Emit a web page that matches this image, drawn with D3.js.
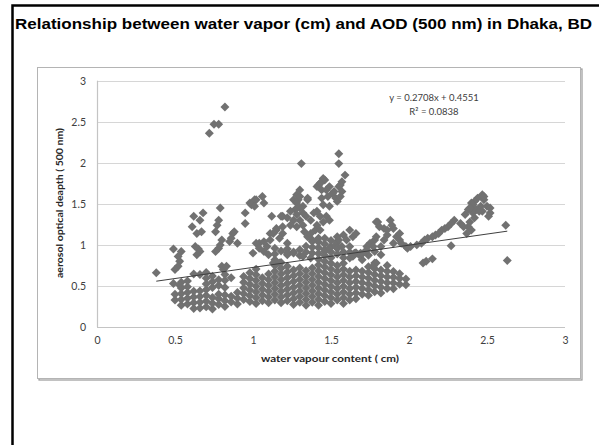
<!DOCTYPE html>
<html>
<head>
<meta charset="utf-8">
<script src="https://cdn.jsdelivr.net/npm/d3@7"></script>
<style>
  html, body { margin: 0; padding: 0; background: #fff; }
  svg { display: block; }
</style>
</head>
<body>
<svg id="chart" width="599" height="445"></svg>
<script>
// Daily water vapour (cm) vs. AOD at 500 nm, Dhaka.

const titleText = "Relationship between water vapor (cm) and AOD (500 nm) in Dhaka, BD";
const xTitle = "water vapour content ( cm)";
const yTitle = "aerosol optical deapth ( 500 nm)";
const xTicks = [0, 0.5, 1, 1.5, 2, 2.5, 3];
const yTicks = [0, 0.5, 1, 1.5, 2, 2.5, 3];
const slope = 0.2708;
const intercept = 0.4551;
const rSquared = "0.0838";

// Dense low-AOD band: water vapour value with the AOD values observed at it.
const denseBand = [
  [0.50, [0.33, 0.40]],
  [0.54, [0.265, 0.335, 0.405, 0.475, 0.545]],
  [0.58, [0.28, 0.35, 0.42, 0.49, 0.56]],
  [0.62, [0.225, 0.295, 0.365, 0.435, 0.645]],
  [0.66, [0.23, 0.30, 0.37, 0.44, 0.64]],
  [0.70, [0.245, 0.315, 0.385, 0.455, 0.525, 0.595, 0.665]],
  [0.74, [0.22, 0.29, 0.36, 0.48, 0.55, 0.62]],
  [0.78, [0.275, 0.345, 0.40, 0.505, 0.575]],
  [0.82, [0.25, 0.32, 0.39, 0.48, 0.57, 0.64]],
  [0.86, [0.305, 0.375, 0.60]],
  [0.90, [0.28, 0.35, 0.42]],
  [0.94, [0.335, 0.405, 0.475, 0.545, 0.615]],
  [0.98, [0.31, 0.38, 0.45, 0.52, 0.59, 0.66]],
  [1.02, [0.285, 0.355, 0.425, 0.495, 0.565, 0.635, 0.705]],
  [1.06, [0.32, 0.39, 0.46, 0.53, 0.60]],
  [1.10, [0.295, 0.365, 0.435, 0.505, 0.575, 0.645, 0.88]],
  [1.14, [0.33, 0.40, 0.47, 0.54, 0.61, 0.68, 0.75, 0.82, 0.89, 0.96]],
  [1.18, [0.295, 0.365, 0.435, 0.505, 0.575, 0.645, 0.715, 0.785, 0.925]],
  [1.22, [0.32, 0.39, 0.46, 0.53, 0.60, 0.67, 0.74, 0.88, 0.95, 1.02]],
  [1.26, [0.275, 0.345, 0.415, 0.485, 0.555, 0.625, 0.695, 0.915]],
  [1.30, [0.30, 0.37, 0.44, 0.51, 0.58, 0.65, 0.72, 0.87, 0.94]],
  [1.34, [0.265, 0.335, 0.405, 0.475, 0.545, 0.615, 0.685, 0.915, 0.985]],
  [1.38, [0.30, 0.37, 0.44, 0.51, 0.58, 0.65, 0.72, 0.90, 0.97, 1.04]],
  [1.42, [0.265, 0.335, 0.405, 0.475, 0.545, 0.615, 0.685, 0.755, 0.825, 0.895, 0.965, 1.035]],
  [1.46, [0.31, 0.38, 0.45, 0.52, 0.59, 0.66, 0.73, 0.80, 0.87, 0.94, 1.01, 1.08]],
  [1.50, [0.285, 0.355, 0.425, 0.495, 0.565, 0.635, 0.705, 0.775, 0.845, 0.915, 0.985, 1.055]],
  [1.54, [0.33, 0.40, 0.47, 0.54, 0.61, 0.68, 0.75, 0.89, 0.96, 1.03, 1.10]],
  [1.58, [0.285, 0.355, 0.425, 0.495, 0.565, 0.635, 0.705, 0.775, 0.845, 0.915]],
  [1.62, [0.33, 0.40, 0.47, 0.54, 0.61, 0.68, 0.84, 0.91, 0.98]],
  [1.66, [0.345, 0.415, 0.485, 0.555, 0.625, 0.695, 0.905]],
  [1.70, [0.40, 0.47, 0.54, 0.61, 0.68, 0.82, 0.89]],
  [1.74, [0.385, 0.455, 0.525, 0.595, 0.665, 0.735, 0.875]],
  [1.78, [0.43, 0.50, 0.57, 0.64, 0.71, 0.78, 0.92]],
  [1.82, [0.415, 0.485, 0.555, 0.625, 0.695, 0.88]],
  [1.86, [0.47, 0.54, 0.61, 0.68, 0.75]],
  [1.90, [0.465, 0.535, 0.605, 0.675]],
  [1.94, [0.52, 0.59, 0.65]],
  [1.98, [0.515, 0.585]]
];

// Scattered days at low water vapour (0.4 - 1.2 cm).
const lowVapourDays = [
  [0.38, 0.66], [0.49, 0.95], [0.54, 0.92], [0.52, 0.86], [0.53, 0.80], [0.52, 0.74],
  [0.50, 0.70], [0.49, 0.53], [0.53, 0.51], [0.62, 1.35], [0.68, 1.39], [0.66, 1.30],
  [0.61, 1.22], [0.67, 1.16], [0.64, 1.14], [0.79, 1.45], [0.78, 1.30], [0.77, 1.24],
  [0.76, 1.16], [0.65, 0.95], [0.64, 0.88], [0.66, 0.92], [0.63, 0.98], [0.78, 0.96],
  [0.76, 0.92], [0.79, 1.00], [0.80, 1.06], [0.85, 1.04], [0.87, 1.14], [0.86, 1.08],
  [0.90, 1.02], [0.88, 1.16], [0.80, 0.74], [0.81, 0.70], [0.83, 0.74], [0.95, 1.39],
  [0.98, 1.51], [1.01, 1.55], [0.95, 1.26], [1.00, 0.90], [0.99, 1.49], [1.04, 1.02],
  [1.07, 0.92], [1.09, 0.98], [1.11, 1.14], [1.15, 1.20], [1.19, 1.14], [1.13, 0.78],
  [1.17, 0.78], [1.22, 0.90], [1.26, 0.90], [1.32, 0.86], [1.37, 0.84], [1.06, 1.59],
  [1.02, 1.55], [1.01, 1.47], [1.07, 1.51], [1.12, 1.35], [1.19, 1.35], [1.19, 1.22],
  [1.15, 1.18], [1.13, 1.14], [1.17, 1.08], [1.11, 1.06], [1.07, 1.04], [1.02, 1.02],
  [1.04, 0.96]
];

// High-AOD plume around 1.2 - 1.7 cm.
const plumeDays = [
  [1.55, 2.11], [1.55, 1.99], [1.31, 1.99], [1.59, 1.85], [1.57, 1.77], [1.56, 1.73],
  [1.44, 1.77], [1.46, 1.79], [1.42, 1.73], [1.44, 1.67], [1.47, 1.67], [1.49, 1.71],
  [1.51, 1.63], [1.53, 1.57], [1.54, 1.53], [1.48, 1.59], [1.44, 1.57], [1.45, 1.49],
  [1.49, 1.47], [1.45, 1.81], [1.52, 1.65], [1.55, 1.71], [1.57, 1.65], [1.56, 1.59],
  [1.41, 1.71], [1.43, 1.75], [1.41, 1.41], [1.43, 1.35], [1.47, 1.35], [1.49, 1.30],
  [1.45, 1.28], [1.41, 1.24], [1.40, 1.18], [1.43, 1.18], [1.39, 1.39], [1.37, 1.30],
  [1.30, 1.67], [1.28, 1.61], [1.26, 1.55], [1.29, 1.55], [1.35, 1.55], [1.32, 1.47],
  [1.30, 1.45], [1.27, 1.43], [1.24, 1.41], [1.28, 1.51], [1.32, 1.39], [1.34, 1.35],
  [1.35, 1.57], [1.30, 1.59], [1.28, 1.37], [1.30, 1.30], [1.26, 1.30], [1.22, 1.33],
  [1.18, 1.35], [1.24, 1.24], [1.28, 1.22], [1.32, 1.24], [1.33, 1.16], [1.35, 1.10],
  [1.38, 1.06], [1.42, 1.08], [1.37, 1.14]
];

// Moderate AOD days between 1.5 and 2.0 cm.
const midVapourDays = [
  [1.62, 1.18], [1.58, 1.12], [1.55, 1.06], [1.53, 1.00], [1.49, 0.96], [1.46, 0.92],
  [1.54, 0.96], [1.57, 0.98], [1.60, 1.06], [1.64, 1.10], [1.66, 1.14], [1.80, 1.28],
  [1.88, 1.30], [1.84, 1.20], [1.90, 1.20], [1.86, 1.12], [1.92, 1.10], [1.94, 1.06],
  [1.95, 1.02], [1.90, 1.02], [1.84, 1.06], [1.82, 0.98], [1.78, 1.06], [1.75, 1.02],
  [1.73, 0.98], [1.72, 0.92], [1.68, 0.88], [1.65, 0.90], [1.98, 0.98], [1.99, 0.96],
  [1.89, 1.24], [1.81, 1.22], [1.79, 1.10], [1.94, 1.14], [1.86, 1.18], [1.79, 1.28],
  [1.77, 0.98], [1.73, 0.94], [1.69, 0.90], [1.64, 0.86], [1.79, 0.78], [1.77, 0.74]
];

// Humid season arm above 2.0 cm.
const humidDays = [
  [2.47, 1.61], [2.44, 1.57], [2.42, 1.53], [2.40, 1.51], [2.48, 1.55], [2.46, 1.47],
  [2.43, 1.43], [2.47, 1.41], [2.50, 1.47], [2.52, 1.39], [2.51, 1.35], [2.41, 1.39],
  [2.42, 1.33], [2.39, 1.28], [2.38, 1.22], [2.40, 1.18], [2.37, 1.14], [2.36, 1.37],
  [2.38, 1.43], [2.48, 1.59], [2.41, 1.49], [2.39, 1.45], [2.52, 1.45], [2.45, 1.41],
  [2.35, 1.22], [2.33, 1.26], [2.29, 1.30], [2.27, 1.26], [2.25, 1.22], [2.23, 1.20],
  [2.21, 1.18], [2.19, 1.14], [2.17, 1.12], [2.15, 1.10], [2.12, 1.08], [2.10, 1.06],
  [2.08, 1.02], [2.05, 1.00], [2.01, 0.98], [2.62, 1.24], [2.63, 0.81], [2.27, 0.99],
  [2.09, 0.78], [2.11, 0.80], [2.15, 0.83]
];

// Extreme AOD events.
const extremeDays = [[0.72, 2.36], [0.75, 2.47], [0.78, 2.47], [0.82, 2.68]];

const points = [];
denseBand.forEach(([wv, aods]) => aods.forEach(a => points.push([wv, a])));
[lowVapourDays, plumeDays, midVapourDays, humidDays, extremeDays]
  .forEach(group => group.forEach(p => points.push(p)));

const svg = d3.select("#chart");

// Outer page frame (continues past the right and bottom edges).
svg.append("rect")
  .attr("x", 12.5).attr("y", 5.5)
  .attr("width", 620).attr("height", 480)
  .attr("fill", "#fff").attr("stroke", "#000").attr("stroke-width", 2.5);

svg.append("text")
  .attr("x", 15).attr("y", 28.5)
  .attr("font-family", "'Liberation Sans', Arial, sans-serif")
  .attr("font-weight", "bold").attr("font-size", 15)
  .attr("textLength", 577).attr("lengthAdjust", "spacingAndGlyphs")
  .attr("fill", "#000")
  .text(titleText);

// Chart area box with a soft shadow on the lower right.
svg.append("rect")
  .attr("x", 39).attr("y", 69).attr("width", 543).attr("height", 311)
  .attr("fill", "none").attr("stroke", "#9a9a9a").attr("stroke-width", 1.2);
svg.append("rect")
  .attr("x", 37.5).attr("y", 67.5).attr("width", 543).attr("height", 311)
  .attr("fill", "#fff").attr("stroke", "#b4b4b4").attr("stroke-width", 1);

const x = d3.scaleLinear().domain([0, 3]).range([97, 565]);
const y = d3.scaleLinear().domain([0, 3]).range([327, 80.7]);

const labelFont = "Lato, 'Open Sans', sans-serif";

// Horizontal gridlines
svg.append("g")
  .selectAll("line").data(yTicks).join("line")
  .attr("x1", x(0)).attr("x2", x(3))
  .attr("y1", d => Math.round(y(d)) + 0.5).attr("y2", d => Math.round(y(d)) + 0.5)
  .attr("stroke", d => d === 0 ? "#c4c4c4" : "#d6d6d6").attr("stroke-width", 1.2);

// Vertical axis line
svg.append("line")
  .attr("x1", x(0) + 0.5).attr("x2", x(0) + 0.5)
  .attr("y1", y(3)).attr("y2", y(0))
  .attr("stroke", "#c4c4c4").attr("stroke-width", 1.2);

const yAxis = d3.axisLeft(y).tickValues(yTicks).tickSize(0).tickPadding(11)
  .tickFormat(d3.format("~g"));
const gy = svg.append("g").attr("transform", `translate(${x(0)},0)`).call(yAxis);
gy.select(".domain").remove();
gy.selectAll("text").attr("font-family", labelFont).attr("font-size", 10.5).attr("fill", "#404040");

const xAxis = d3.axisBottom(x).tickValues(xTicks).tickSize(0).tickPadding(10)
  .tickFormat(d3.format("~g"));
const gx = svg.append("g").attr("transform", `translate(0,${y(0)})`).call(xAxis);
gx.select(".domain").remove();
gx.selectAll("text").attr("font-family", labelFont).attr("font-size", 10.5).attr("fill", "#404040");

// Axis titles
svg.append("text")
  .attr("x", 330).attr("y", 362).attr("text-anchor", "middle")
  .attr("font-family", labelFont).attr("font-weight", "bold").attr("font-size", 9.5)
  .attr("textLength", 138).attr("lengthAdjust", "spacingAndGlyphs")
  .attr("fill", "#262626").text(xTitle);

svg.append("text")
  .attr("transform", "translate(63,203) rotate(-90)").attr("text-anchor", "middle")
  .attr("font-family", labelFont).attr("font-weight", "bold").attr("font-size", 9.5)
  .attr("textLength", 150).attr("lengthAdjust", "spacingAndGlyphs")
  .attr("fill", "#262626").text(yTitle);

// Diamond markers
const diamond = {
  draw(ctx, size) {
    const r = Math.sqrt(size / 2);
    ctx.moveTo(0, -r); ctx.lineTo(r, 0); ctx.lineTo(0, r); ctx.lineTo(-r, 0); ctx.closePath();
  }
};
svg.append("g")
  .selectAll("path").data(points).join("path")
  .attr("transform", d => `translate(${x(d[0])},${y(d[1])})`)
  .attr("d", d3.symbol().type(diamond).size(40))
  .attr("fill", "#717171");

// Linear trendline over the observed range
const [xmin, xmax] = d3.extent(points, d => d[0]);
svg.append("line")
  .attr("x1", x(xmin)).attr("y1", y(slope * xmin + intercept))
  .attr("x2", x(xmax)).attr("y2", y(slope * xmax + intercept))
  .attr("stroke", "#3f3f3f").attr("stroke-width", 1);

// Regression equation
const eq = svg.append("text")
  .attr("font-family", labelFont).attr("font-size", 9.5).attr("fill", "#404040")
  .attr("text-anchor", "middle");
eq.append("tspan").attr("x", 434).attr("y", 101)
  .text(`y = ${slope}x + ${intercept}`);
eq.append("tspan").attr("x", 434).attr("y", 115)
  .text(`R² = ${rSquared}`);
</script>
</body>
</html>
